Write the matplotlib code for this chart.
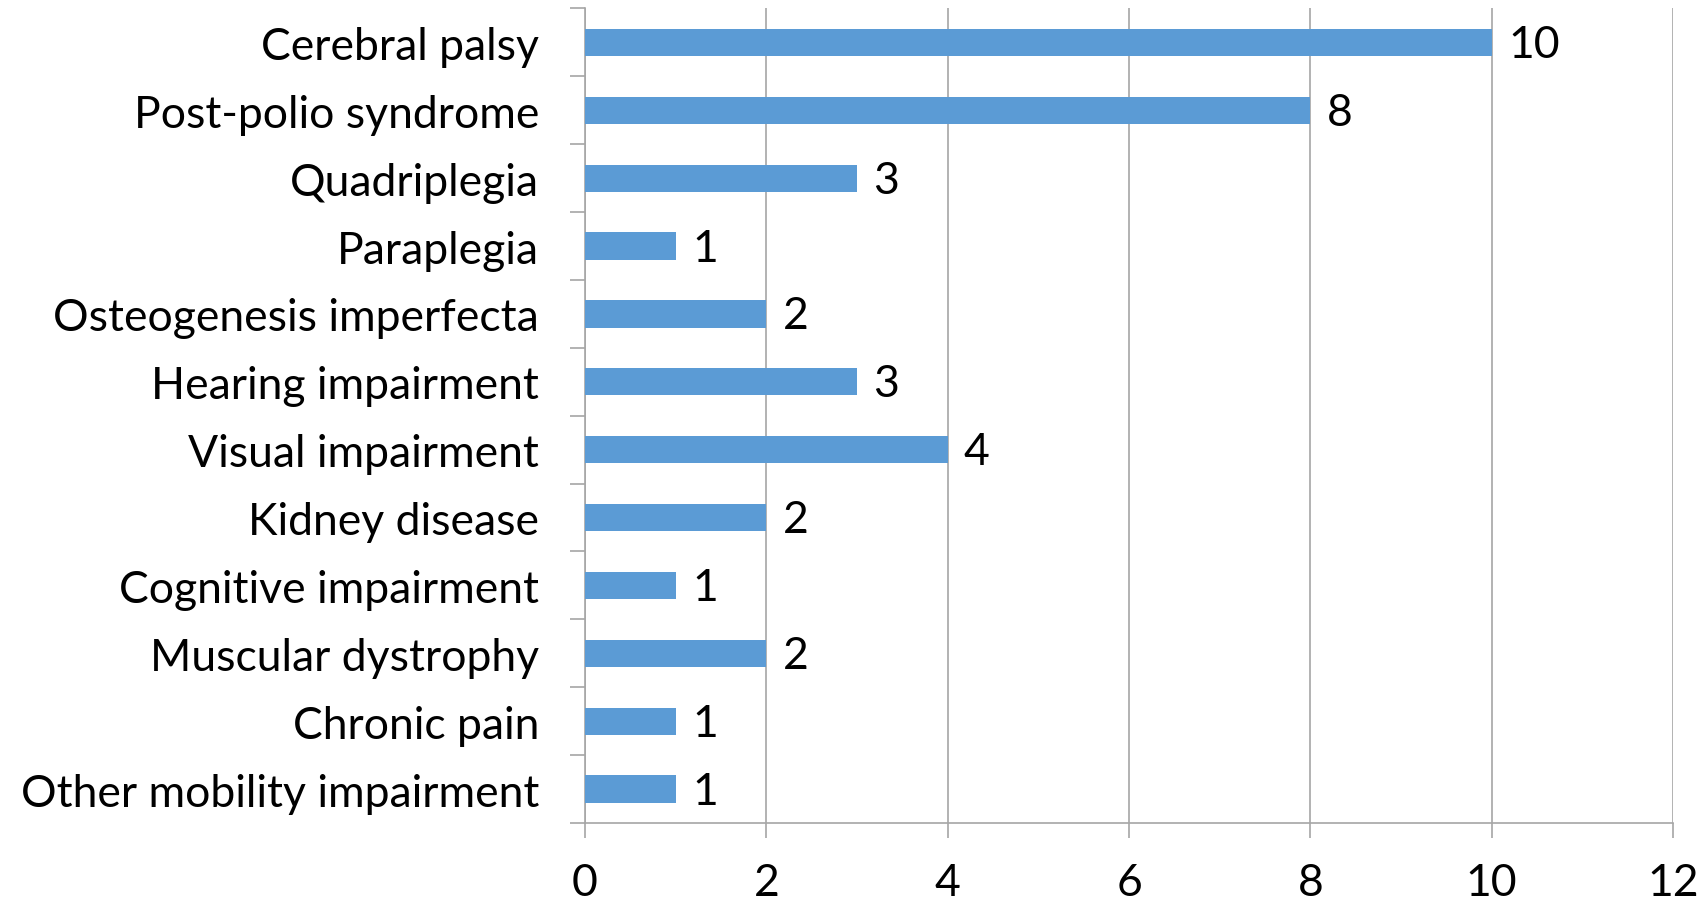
import matplotlib.pyplot as plt
import numpy as np

plt.rcParams['font.family'] = ['Lato', 'DejaVu Sans']

conditions = ['Cerebral palsy', 'Post-polio syndrome', 'Quadriplegia', 'Paraplegia',
              'Osteogenesis imperfecta', 'Hearing impairment', 'Visual impairment',
              'Kidney disease', 'Cognitive impairment', 'Muscular dystrophy',
              'Chronic pain', 'Other mobility impairment']
counts = [10, 8, 3, 1, 2, 3, 4, 2, 1, 2, 1, 1]
xticks = [0, 2, 4, 6, 8, 10, 12]

fig = plt.figure(figsize=(17.03, 9.04), dpi=100)
ax = fig.add_axes([0.3435, 0.0885, 0.6389, 0.901])

y = np.arange(len(conditions))
ax.barh(y, counts, height=0.4, color='#5B9BD5', zorder=3)
for yi, c in zip(y, counts):
    ax.text(c + 0.18, yi + 0.03, str(c), va='center', ha='left', fontsize=32, color='black')

ax.set_xlim(0, 12)
ax.set_ylim(len(conditions) - 0.5, -0.5)
ax.set_xticks(xticks)
ax.set_xticklabels([str(t) for t in xticks], fontsize=32)
ax.set_yticks(y)
ax.set_yticklabels(conditions, fontsize=32)
ax.set_yticks(np.arange(len(conditions) + 1) - 0.5, minor=True)

ax.grid(axis='x', color='#A6A6A6', linewidth=1.2, zorder=0)
for s in ['top', 'right']:
    ax.spines[s].set_visible(False)
ax.spines['left'].set_color('#A6A6A6')
ax.spines['bottom'].set_color('#A6A6A6')
ax.spines['left'].set_linewidth(1.2)
ax.spines['bottom'].set_linewidth(1.2)

ax.tick_params(axis='y', which='major', length=0, pad=33)
ax.tick_params(axis='y', which='minor', length=11, color='#A6A6A6', width=1.2)
ax.tick_params(axis='x', length=11, color='#A6A6A6', width=1.2, pad=17)

fig.savefig('out.png', dpi=100)
